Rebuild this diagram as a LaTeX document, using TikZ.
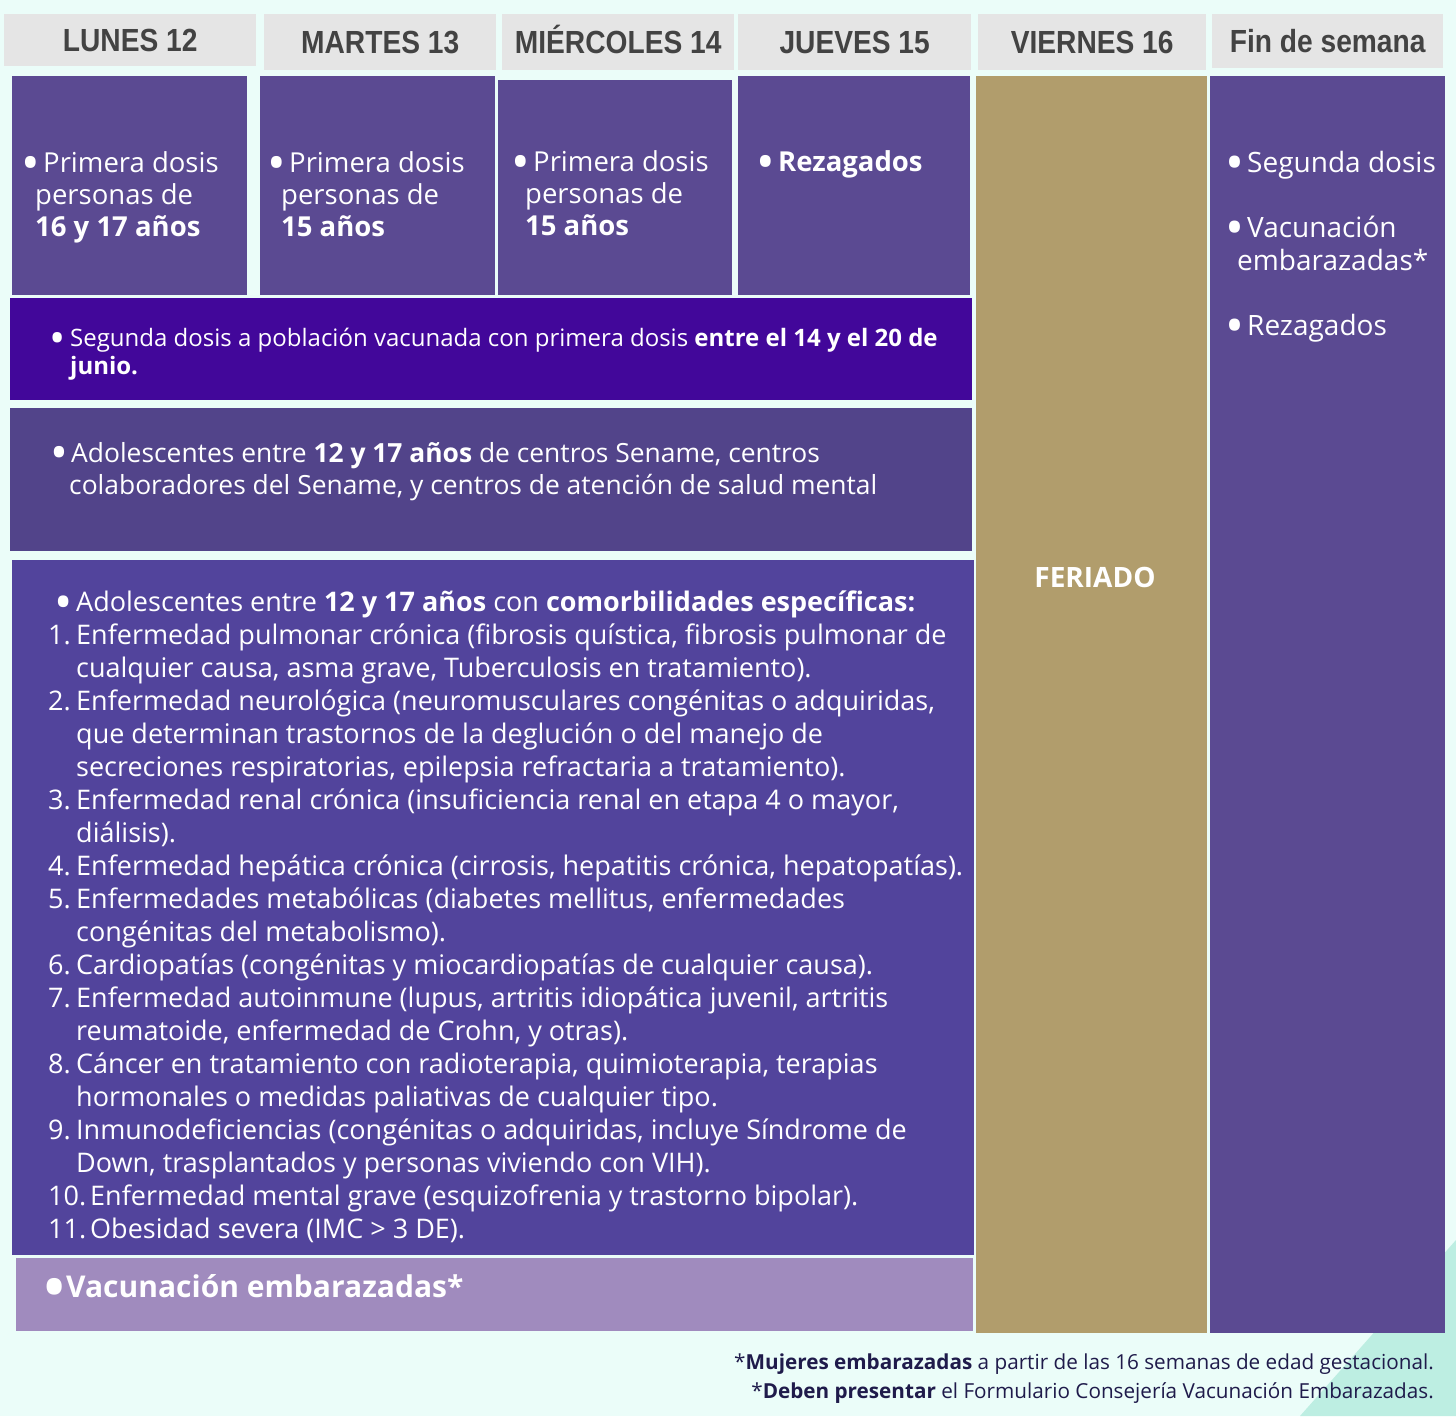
\documentclass[tikz,border=0pt]{standalone}
\usepackage{fontspec}
\setmainfont{Open Sans}
\newfontfamily\headfont[FakeStretch=0.88]{Liberation Sans}
\definecolor{bgmint}{HTML}{EBFDF9}
\definecolor{cornermint}{HTML}{BDEEE2}
\definecolor{hdgray}{HTML}{E5E5E5}
\definecolor{hdtext}{HTML}{434343}
\definecolor{daycell}{HTML}{5B4A92}
\definecolor{segcell}{HTML}{42079A}
\definecolor{adocell}{HTML}{52448A}
\definecolor{comcell}{HTML}{52449C}
\definecolor{embcell}{HTML}{A08BBE}
\definecolor{fercell}{HTML}{B19D6C}
\definecolor{foottext}{HTML}{1F1B4B}
\newcommand{\bul}{\makebox[18pt][l]{\hspace*{-0.12em}\raisebox{-0.3em}{\scalebox{1.8}{\textbullet}}}}
\newcommand{\num}[1]{\makebox[28pt][l]{#1.}}
\begin{document}
\begin{tikzpicture}[x=1pt,y=-1pt,
  hd/.style={fill=hdgray, text=hdtext, font=\headfont\bfseries\fontsize{32}{34}\selectfont, text height=23pt, text depth=0pt, anchor=north west, inner sep=0pt},
  cell/.style={anchor=north west, inner sep=0pt},
  txt/.style={text=white, anchor=base west, align=left, inner sep=0pt}]
\useasboundingbox (0,0) rectangle (1456,1416);
\fill[bgmint] (0,0) rectangle (1456,1416);
\fill[cornermint] (1456,1240) -- (1300,1416) -- (1456,1416) -- cycle;

\node[hd, minimum width=252, minimum height=52] (hd0) at (4,14){LUNES 12};
\node[hd, minimum width=232, minimum height=56] (hd1) at (264,14){MARTES 13};
\node[hd, minimum width=232, minimum height=56] (hd2) at (502,14){MIÉRCOLES 14};
\node[hd, minimum width=233, minimum height=56] (hd3) at (738,14){JUEVES 15};
\node[hd, minimum width=228, minimum height=56] (hd4) at (978,14){VIERNES 16};
\node[hd, minimum width=231, minimum height=54] (hd5) at (1212,14){Fin de semana};

\node[cell, fill=daycell, minimum width=235, minimum height=219] (bx0) at (12,76){};
\node[cell, fill=daycell, minimum width=235, minimum height=219] (bx1) at (260,76){};
\node[cell, fill=daycell, minimum width=234, minimum height=215] (bx2) at (498,80){};
\node[cell, fill=daycell, minimum width=232, minimum height=219] (bx3) at (738,76){};
\node[cell, fill=segcell, minimum width=962, minimum height=102] (seg) at (10,298){};
\node[cell, fill=adocell, minimum width=962, minimum height=143] (ado) at (10,408){};
\node[cell, fill=comcell, minimum width=962, minimum height=695] (com) at (12,560){};
\node[cell, fill=embcell, minimum width=957, minimum height=73] (emb) at (16,1258){};
\node[cell, fill=fercell, minimum width=231, minimum height=1257] (fer) at (976,76){};
\node[cell, fill=daycell, minimum width=235, minimum height=1257] (fin) at (1210,76){};

\node[txt, font=\fontsize{27.5}{32}\selectfont] (tx0) at (25,236){\bul Primera dosis\\\hspace*{10pt}personas de\\\hspace*{10pt}\textbf{16 y 17 años}};
\node[txt, font=\fontsize{27.5}{32}\selectfont] (tx1) at (271,236){\bul Primera dosis\\\hspace*{10pt}personas de\\\hspace*{10pt}\textbf{15 años}};
\node[txt, font=\fontsize{27.5}{32}\selectfont] (tx2) at (515,235){\bul Primera dosis\\\hspace*{10pt}personas de\\\hspace*{10pt}\textbf{15 años}};
\node[txt, font=\fontsize{27.5}{32}\selectfont] (tx3) at (760,171){\bul\textbf{Rezagados}};
\node[txt, font=\fontsize{24}{28}\selectfont] (txseg) at (52,374){\bul Segunda dosis a población vacunada con primera dosis \textbf{entre el 14 y el 20 de}\\\hspace*{18pt}\textbf{junio.}};
\node[txt, font=\fontsize{26.4}{32}\selectfont] (txado) at (53,494){\bul Adolescentes entre \textbf{12 y 17 años} de centros Sename, centros\\\hspace*{16pt}colaboradores del Sename, y centros de atención de salud mental};
\node[txt, font=\fontsize{27}{33}\selectfont] (txcom) at (48,1238){\hspace*{10pt}\bul Adolescentes entre \textbf{12 y 17 años} con \textbf{comorbilidades específicas:}\\
\num{1}Enfermedad pulmonar crónica (fibrosis quística, fibrosis pulmonar de\\\hspace*{28pt}cualquier causa, asma grave, Tuberculosis en tratamiento).\\
\num{2}Enfermedad neurológica (neuromusculares congénitas o adquiridas,\\\hspace*{28pt}que determinan trastornos de la deglución o del manejo de\\\hspace*{28pt}secreciones respiratorias, epilepsia refractaria a tratamiento).\\
\num{3}Enfermedad renal crónica (insuficiencia renal en etapa 4 o mayor,\\\hspace*{28pt}diálisis).\\
\num{4}Enfermedad hepática crónica (cirrosis, hepatitis crónica, hepatopatías).\\
\num{5}Enfermedades metabólicas (diabetes mellitus, enfermedades\\\hspace*{28pt}congénitas del metabolismo).\\
\num{6}Cardiopatías (congénitas y miocardiopatías de cualquier causa).\\
\num{7}Enfermedad autoinmune (lupus, artritis idiopática juvenil, artritis\\\hspace*{28pt}reumatoide, enfermedad de Crohn, y otras).\\
\num{8}Cáncer en tratamiento con radioterapia, quimioterapia, terapias\\\hspace*{28pt}hormonales o medidas paliativas de cualquier tipo.\\
\num{9}Inmunodeficiencias (congénitas o adquiridas, incluye Síndrome de\\\hspace*{28pt}Down, trasplantados y personas viviendo con VIH).\\
\makebox[42pt][l]{10.}Enfermedad mental grave (esquizofrenia y trastorno bipolar).\\
\makebox[42pt][l]{11.}Obesidad severa (IMC > 3 DE).};
\node[txt, font=\bfseries\fontsize{30}{32}\selectfont] (txemb) at (48,1297){\bul Vacunación embarazadas*};
\node[text=white, font=\bfseries\fontsize{28}{30}\selectfont, inner sep=0pt] (txfer) at (1095,577){FERIADO};
\node[txt, font=\fontsize{28}{33}\selectfont] (txfin) at (1229,335){\bul Segunda dosis\\[32pt]\bul Vacunación\\\hspace*{8pt}embarazadas*\\[32pt]\bul Rezagados};
\node[text=foottext, anchor=base east, align=right, inner sep=0pt, font=\fontsize{20.7}{29}\selectfont] (foot) at (1434,1398){*\textbf{Mujeres embarazadas} a partir de las 16 semanas de edad gestacional.\\*\textbf{Deben presentar} el Formulario Consejería Vacunación Embarazadas.};
\end{tikzpicture}
\end{document}
